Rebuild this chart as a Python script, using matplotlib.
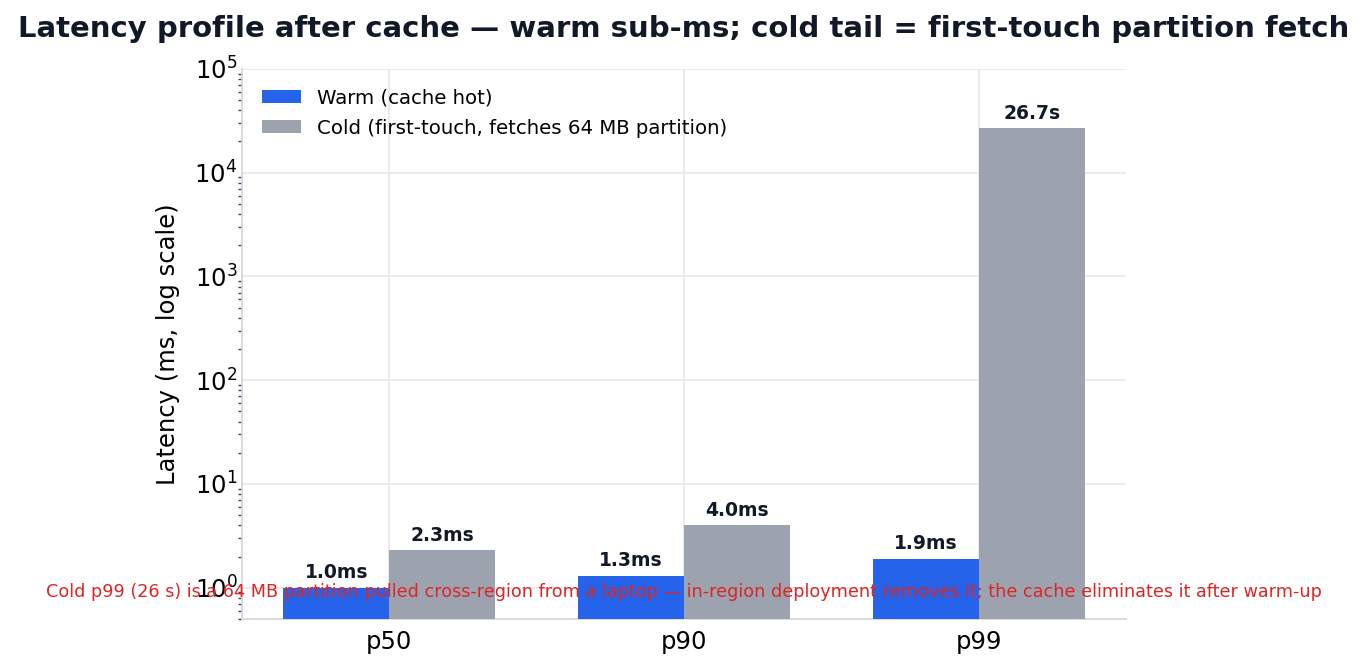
import numpy as np
import matplotlib.pyplot as plt

# data
percentiles = ["p50", "p90", "p99"]
warm_ms = [1.0, 1.3, 1.9]
cold_ms = [2.3, 4.0, 26700.0]
warm_labels = ["1.0ms", "1.3ms", "1.9ms"]
cold_labels = ["2.3ms", "4.0ms", "26.7s"]

fig = plt.figure(figsize=(13.68, 6.67), dpi=100)
ax = fig.add_axes([0.177, 0.072, 0.646, 0.8246])

x = np.arange(len(percentiles))
w = 0.36
b1 = ax.bar(x - w / 2, warm_ms, w, color="#2563eb", label="Warm (cache hot)", zorder=3)
b2 = ax.bar(x + w / 2, cold_ms, w, color="#9ca3af",
            label="Cold (first-touch, fetches 64 MB partition)", zorder=3)

for bars, labels in ((b1, warm_labels), (b2, cold_labels)):
  for r, lab in zip(bars, labels):
    ax.annotate(lab, (r.get_x() + r.get_width() / 2, r.get_height()),
                xytext=(0, 4), textcoords="offset points", ha="center", va="bottom",
                fontsize=13.5, fontweight="bold", color="#111827", zorder=4)

ax.set_yscale("log")
ax.set_ylim(0.5, 1e5)
ax.set_xlim(-0.5, 2.5)
ax.set_xticks(x)
ax.set_xticklabels(percentiles)
ax.tick_params(axis="both", labelsize=17.5)
ax.tick_params(axis="x", length=0, pad=8)
ax.tick_params(axis="y", which="major", length=0)
ax.tick_params(axis="y", which="minor", length=3, width=1, color="#374151")
ax.set_ylabel("Latency (ms, log scale)", fontsize=17.5, labelpad=10)

ax.grid(True, color="#e5e7eb", linewidth=1.2, zorder=0)
ax.set_axisbelow(True)
for s in ("top", "right"):
  ax.spines[s].set_visible(False)
for s in ("left", "bottom"):
  ax.spines[s].set_color("#d1d5db")
  ax.spines[s].set_linewidth(1.2)

ax.legend(loc="upper left", frameon=False, fontsize=14.2, handlelength=2.0,
          handleheight=0.6, borderaxespad=0.6, labelspacing=0.55)

fig.text(0.5, 0.957, "Latency profile after cache \u2014 warm sub-ms; cold tail = first-touch partition fetch",
         ha="center", va="center", fontsize=21, fontweight="bold", color="#111827")
fig.text(0.5, 0.112, "Cold p99 (26 s) is a 64 MB partition pulled cross-region from a laptop \u2014 "
         "in-region deployment removes it; the cache eliminates it after warm-up",
         ha="center", va="center", fontsize=12.7, color="#dc2626", zorder=10)

fig.savefig("out.png", dpi=100)
